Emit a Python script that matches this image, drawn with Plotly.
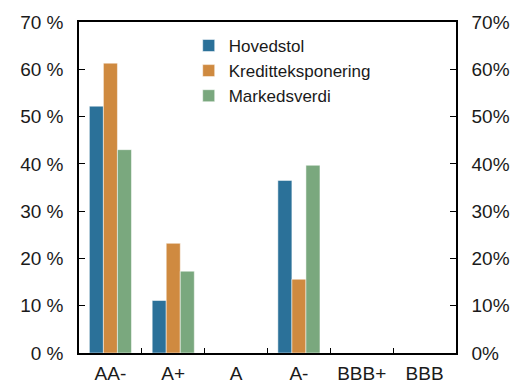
import plotly.graph_objects as go

categories = ["AA-", "A+", "A", "A-", "BBB+", "BBB"]
hovedstol = [52.2, 11.1, 0, 36.5, 0, 0]
kreditt = [61.3, 23.2, 0, 15.6, 0, 0]
markedsverdi = [43.0, 17.3, 0, 39.7, 0, 0]
y_ticks = [0, 10, 20, 30, 40, 50, 60, 70]

colors = ["rgb(43,113,153)", "rgb(207,138,64)", "rgb(122,168,126)"]
names = ["Hovedstol", "Kreditteksponering", "Markedsverdi"]
series = [hovedstol, kreditt, markedsverdi]

fig = go.Figure()
for n, s, c in zip(names, series, colors):
    fig.add_trace(go.Bar(x=categories, y=s, name=n,
                         marker=dict(color=c, line=dict(color="rgba(255,255,255,0.5)", width=1))))

fig.add_trace(go.Scatter(x=[categories[0]], y=[0], yaxis="y2", mode="markers",
                         marker=dict(opacity=0), showlegend=False, hoverinfo="skip"))

font = dict(family="Liberation Sans, Arial, sans-serif", size=19, color="#1a1a1a")
fig.update_layout(
    width=515, height=385,
    margin=dict(l=79, r=59, t=22, b=32, autoexpand=False),
    plot_bgcolor="white", paper_bgcolor="white",
    font=font,
    barmode="group", bargap=0.33, bargroupgap=0,
    showlegend=True,
    legend=dict(x=0.291, y=0.982, xanchor="left", yanchor="top", bgcolor="rgba(0,0,0,0)",
                font=dict(size=17), tracegroupgap=0, itemwidth=30),
    xaxis=dict(type="category", tickson="boundaries", ticks="inside", ticklen=5,
               tickcolor="black", linecolor="black", linewidth=1.5, showline=True,
               mirror=True, showgrid=False, tickfont=font, automargin=False,
               ticklabelstandoff=2),
    yaxis=dict(range=[0, 70], tickvals=y_ticks, ticktext=[f"{v} %" for v in y_ticks],
               ticks="inside", ticklen=6, tickcolor="black", showgrid=False,
               linecolor="black", linewidth=1.5, showline=True, zeroline=False,
               tickfont=font, automargin=False, ticklabelstandoff=10),
    yaxis2=dict(range=[0, 70], tickvals=y_ticks, ticktext=[f"{v}%" for v in y_ticks],
                overlaying="y", side="right", ticks="inside", ticklen=6, tickcolor="black",
                showgrid=False, showline=True, linecolor="black", linewidth=1.5,
                zeroline=False, tickfont=font, automargin=False, ticklabelstandoff=10),
)
fig.write_html("out.html", config={"displayModeBar": False},
               post_script="document.body.style.margin='0';")
